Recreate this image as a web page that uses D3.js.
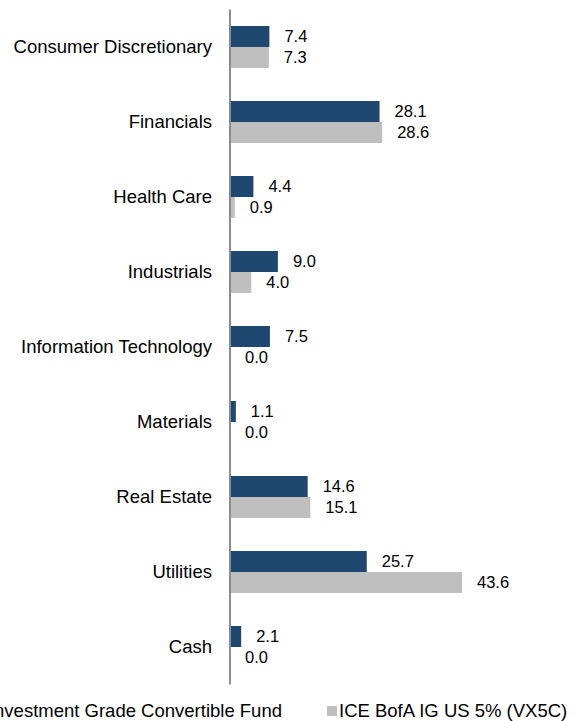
<!DOCTYPE html>
<html><head><meta charset="utf-8">
<script src="https://cdn.jsdelivr.net/npm/d3@7"></script>
<style>body{margin:0;background:#fff}svg{display:block}</style>
</head><body><div id="c"></div>
<script>
const categories = ["Consumer Discretionary","Financials","Health Care","Industrials","Information Technology","Materials","Real Estate","Utilities","Cash"];
const fundValues = [7.4,28.1,4.4,9.0,7.5,1.1,14.6,25.7,2.1];
const indexValues = [7.3,28.6,0.9,4.0,0.0,0.0,15.1,43.6,0.0];
const seriesNames = ["Investment Grade Convertible Fund","ICE BofA IG US 5% (VX5C)"];
const colors = ["#1f4870","#bfbfbf"];

const W=582,H=721;
const svg=d3.select("#c").append("svg").attr("width",W).attr("height",H);
const x0=230;
const x=d3.scaleLinear().domain([0,43.6]).range([x0,x0+232]);
const y=d3.scaleBand().domain(categories).range([9.5,684.5]).paddingInner(0.44).paddingOuter(0.22);
const y1=d3.scaleBand().domain([0,1]).range([0,y.bandwidth()]);
const series=[fundValues,indexValues];
const font="Arial, 'Liberation Sans', sans-serif";

series.forEach((vals,si)=>{
  svg.append("g").selectAll("rect").data(vals).join("rect")
    .attr("x",x(0)).attr("y",(d,i)=>y(categories[i])+y1(si))
    .attr("width",d=>x(d)-x(0)).attr("height",y1.bandwidth())
    .attr("fill",colors[si]);
  svg.append("g").selectAll("text").data(vals).join("text")
    .attr("x",d=>x(d)+15).attr("y",(d,i)=>y(categories[i])+y1(si)+y1.bandwidth()/2)
    .attr("dy","0.35em").attr("font-family",font).attr("font-size",16.5).attr("fill","#000")
    .text(d=>d.toFixed(1));
});

svg.append("line").attr("x1",x0).attr("x2",x0).attr("y1",9.5).attr("y2",684.5)
  .attr("stroke","#8c8c8c").attr("stroke-width",2);

svg.append("g").selectAll("text").data(categories).join("text")
  .attr("x",212).attr("y",d=>y(d)+y.bandwidth()/2).attr("dy","0.35em")
  .attr("text-anchor","end").attr("font-family",font).attr("font-size",18.5).attr("fill","#000")
  .text(d=>d);

// legend
const lg=svg.append("g").attr("font-family",font).attr("font-size",18.5);
lg.append("text").attr("x",282).attr("y",711).attr("dy","0.35em").attr("text-anchor","end").text(seriesNames[0]);
lg.append("rect").attr("x",-30).attr("y",706).attr("width",10).attr("height",10).attr("fill",colors[0]);
lg.append("rect").attr("x",327).attr("y",706).attr("width",10).attr("height",10).attr("fill",colors[1]);
lg.append("text").attr("x",339).attr("y",711).attr("dy","0.35em").text(seriesNames[1]);
</script></body></html>
